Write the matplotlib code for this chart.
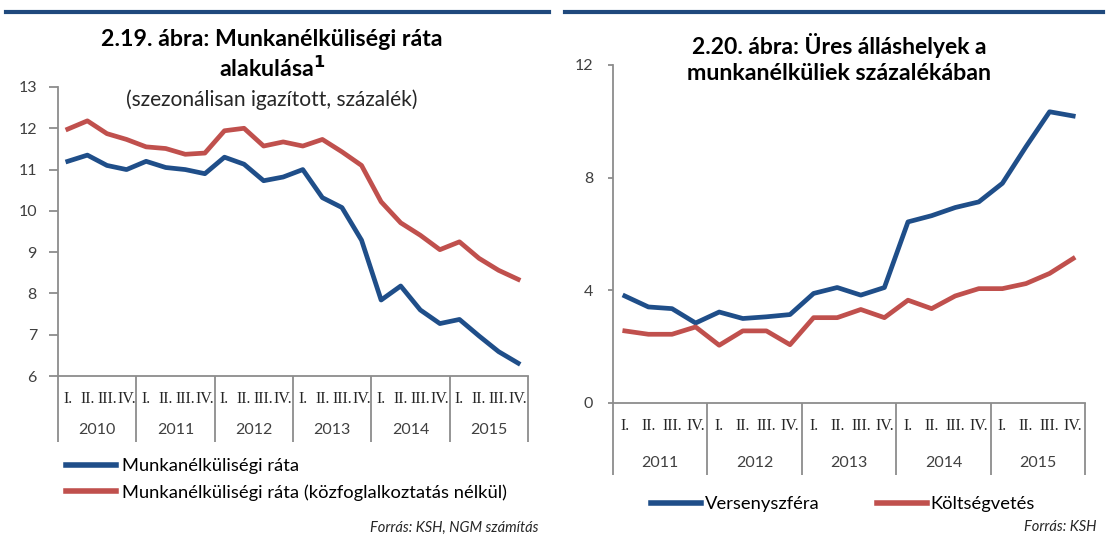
import numpy as np
import matplotlib.pyplot as plt
from matplotlib.lines import Line2D
from matplotlib import transforms

plt.rcParams['font.family'] = ['Lato', 'DejaVu Sans']

# ----- adatok -----
years_left = ['2010', '2011', '2012', '2013', '2014', '2015']
years_right = ['2011', '2012', '2013', '2014', '2015']
quarters = ['I.', 'II.', 'III.', 'IV.']

munkanelk = [11.2, 11.35, 11.1, 11.0, 11.2, 11.05, 11.0, 10.9,
             11.3, 11.13, 10.73, 10.82, 11.0, 10.32, 10.08, 9.29,
             7.84, 8.18, 7.6, 7.27, 7.37, 6.97, 6.59, 6.31]
munkanelk_kozf = [11.98, 12.18, 11.87, 11.73, 11.55, 11.51, 11.37, 11.4,
                  11.94, 12.0, 11.57, 11.67, 11.57, 11.73, 11.43, 11.1,
                  10.22, 9.71, 9.41, 9.06, 9.25, 8.85, 8.56, 8.34]

verseny = [3.8, 3.41, 3.35, 2.84, 3.23, 3.0, 3.06, 3.14,
           3.89, 4.1, 3.83, 4.1, 6.43, 6.65, 6.94, 7.14,
           7.8, 9.1, 10.34, 10.19]
koltseg = [2.56, 2.44, 2.44, 2.7, 2.05, 2.56, 2.56, 2.07,
           3.03, 3.03, 3.32, 3.03, 3.65, 3.35, 3.8, 4.06,
           4.06, 4.24, 4.6, 5.13]

BLUE = '#1F4E89'
RED = '#C0504D'
GRAY = '#8C8C8C'
TXT = '#404040'
W, H = 1107, 540

fig = plt.figure(figsize=(W / 100, H / 100), dpi=100)
rend = fig.canvas.get_renderer()


def px_axes(x0, y0, x1, y1):
    return fig.add_axes([x0 / W, 1 - y1 / H, (x1 - x0) / W, (y1 - y0) / H])


def fit_text(x, y, s, width_px, **kw):
    # szöveg méretezése a megadott szélességre
    t = fig.text(x / W, 1 - y / H, s, **kw)
    w = t.get_window_extent(rend).width
    t.set_fontsize(t.get_fontsize() * width_px / w)
    return t


def fit_size(s, width_px, **kw):
    t = fig.text(0, 0, s, fontsize=10, **kw)
    w = t.get_window_extent(rend).width
    t.remove()
    return 10 * width_px / w


def category_axis(ax, years, q_off, y_off, sep_len, ytick_len, ypad):
    n = len(years) * 4
    ax.set_xlim(0, n)
    ax.set_xticks(np.arange(0, n + 1, 4))
    ax.set_xticklabels([])
    ax.tick_params(axis='x', length=sep_len * 0.72, width=1.3, color=GRAY, direction='out')
    ax.tick_params(axis='y', length=ytick_len * 0.72, width=1.3, color=GRAY,
                   labelcolor=TXT, labelsize=11.5, pad=ypad * 0.72)
    for s in ['top', 'right']:
        ax.spines[s].set_visible(False)
    for s in ['left', 'bottom']:
        ax.spines[s].set_color(GRAY)
        ax.spines[s].set_linewidth(1.3)
    tq = transforms.offset_copy(ax.get_xaxis_transform(), fig=fig, y=-q_off, units='dots')
    ty = transforms.offset_copy(ax.get_xaxis_transform(), fig=fig, y=-y_off, units='dots')
    for i in range(n):
        ax.text(i + 0.5, 0, quarters[i % 4], transform=tq, ha='center', va='center',
                fontsize=11.5, family='Liberation Serif', color='#262626')
    for j, yr in enumerate(years):
        ax.text(4 * j + 2, 0, yr, transform=ty, ha='center', va='center',
                fontsize=11.5, color=TXT)


leg_fs = fit_size('Munkanélküliségi ráta (közfoglalkoztatás nélkül)', 385)

# ----- bal oldali ábra -----
ax1 = px_axes(58, 87, 528, 376)
x1 = np.arange(len(munkanelk)) + 0.5
ax1.plot(x1, munkanelk, color=BLUE, lw=3.4, label='Munkanélküliségi ráta')
ax1.plot(x1, munkanelk_kozf, color=RED, lw=3.4,
         label='Munkanélküliségi ráta (közfoglalkoztatás nélkül)')
ax1.set_ylim(6, 13)
ax1.set_yticks(range(6, 14))
category_axis(ax1, years_left, 23, 54, 66, 9, 12)
leg1 = ax1.legend(loc='upper left', bbox_to_anchor=(66 / W, 1 - 458 / H),
                  bbox_transform=fig.transFigure, frameon=False, fontsize=leg_fs,
                  handlelength=50 / (leg_fs * 1.389), handletextpad=6 / (leg_fs * 1.389),
                  labelspacing=0.55, borderaxespad=0, borderpad=0)
for h in leg1.get_lines():
    h.set_linewidth(4)

t1 = fit_text(272, 40, '2.19. ábra: Munkanélküliségi ráta', 341, ha='center', va='center',
              fontsize=13, fontweight='bold')
fig.text(272 / W, 1 - 68 / H, 'alakulása$^{\\mathbf{1}}$', ha='center', va='center',
         fontsize=t1.get_fontsize(), fontweight='bold')
fit_text(272, 100, '(szezonálisan igazított, százalék)', 291, ha='center', va='center',
         fontsize=12, color='#262626')
fig.text(538 / W, 1 - 528 / H, 'Forrás: KSH, NGM számítás', ha='right', va='center',
         fontsize=10.5, style='italic', color='#262626')

# ----- jobb oldali ábra -----
ax2 = px_axes(613, 65, 1085, 403)
x2 = np.arange(len(verseny)) + 0.5
ax2.plot(x2, verseny, color=BLUE, lw=3.4, label='Versenyszféra')
ax2.plot(x2, koltseg, color=RED, lw=3.4, label='Költségvetés')
ax2.set_ylim(0, 12)
ax2.set_yticks([0, 4, 8, 12])
category_axis(ax2, years_right, 23, 60, 72, 5, 15)
leg2 = ax2.legend(loc='center left', bbox_to_anchor=(651 / W, 1 - 504 / H),
                  bbox_transform=fig.transFigure, frameon=False, fontsize=leg_fs, ncol=2,
                  handlelength=50 / (leg_fs * 1.389), handletextpad=4 / (leg_fs * 1.389),
                  columnspacing=3.1, borderaxespad=0, borderpad=0)
for h in leg2.get_lines():
    h.set_linewidth(4)

fit_text(839, 45, '2.20. ábra: Üres álláshelyek a', 294, ha='center', va='center',
         fontsize=13, fontweight='bold')
fit_text(839, 73, 'munkanélküliek százalékában', 304, ha='center', va='center',
         fontsize=13, fontweight='bold')
fig.text(1097 / W, 1 - 527 / H, 'Forrás: KSH', ha='right', va='center',
         fontsize=10.5, style='italic', color='#262626')

# felső kék vonalak
fig.add_artist(Line2D([6 / W, 549 / W], [1 - 12 / H] * 2, color='#1F497D', lw=3))
fig.add_artist(Line2D([565 / W, 1103 / W], [1 - 12 / H] * 2, color='#1F497D', lw=3))

fig.savefig('out.png', dpi=100)
